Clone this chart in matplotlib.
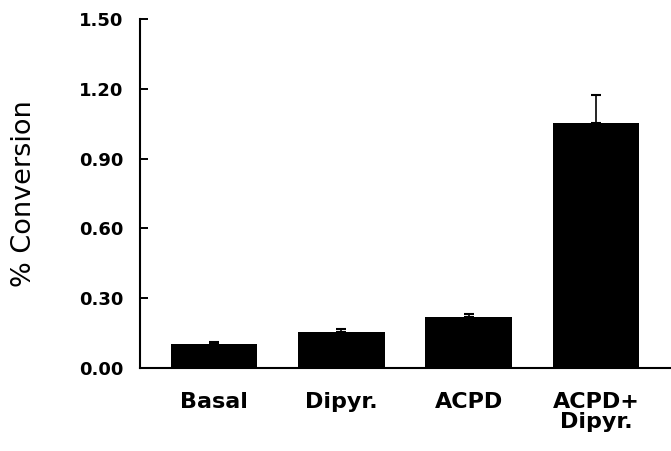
import numpy as np
import matplotlib.pyplot as plt

# values
groups = ["Basal", "Dipyr.", "ACPD", "ACPD+\nDipyr."]
conversion = [0.105, 0.155, 0.218, 1.055]
sem = [0.006, 0.013, 0.014, 0.117]

plt.rcParams['font.family'] = ['DejaVu Sans']

fig = plt.figure(figsize=(6.71, 4.51), dpi=100)
ax = fig.add_axes([0.2086, 0.184, 0.79, 0.774])

x = np.arange(len(groups))
ax.bar(x, conversion, width=0.68, color='black', zorder=2)
ax.errorbar(x, conversion, yerr=[np.zeros(len(sem)), sem], fmt='none',
            ecolor='black', elinewidth=1.2, capsize=3.3, capthick=1.5, zorder=1)

ax.set_xlim(-0.58, 3.58)
ax.set_ylim(0, 1.5)
ax.set_yticks([0, 0.3, 0.6, 0.9, 1.2, 1.5])
ax.set_yticklabels(["0.00", "0.30", "0.60", "0.90", "1.20", "1.50"])
ax.set_xticks(x)
ax.set_xticklabels(groups, fontsize=16, fontweight='bold', linespacing=1.05)
ax.tick_params(axis='x', length=0, pad=17)
ax.tick_params(axis='y', direction='in', length=6, width=1.4, pad=12,
               labelsize=13)
for lab in ax.get_yticklabels():
    lab.set_fontweight('bold')

ax.spines['top'].set_visible(False)
ax.spines['right'].set_visible(False)
ax.spines['left'].set_linewidth(1.5)
ax.spines['bottom'].set_linewidth(1.5)

ax.set_ylabel("% Conversion", fontsize=19.5)
ax.yaxis.set_label_coords(-0.195, 0.5)

fig.savefig("out.png", dpi=100)
